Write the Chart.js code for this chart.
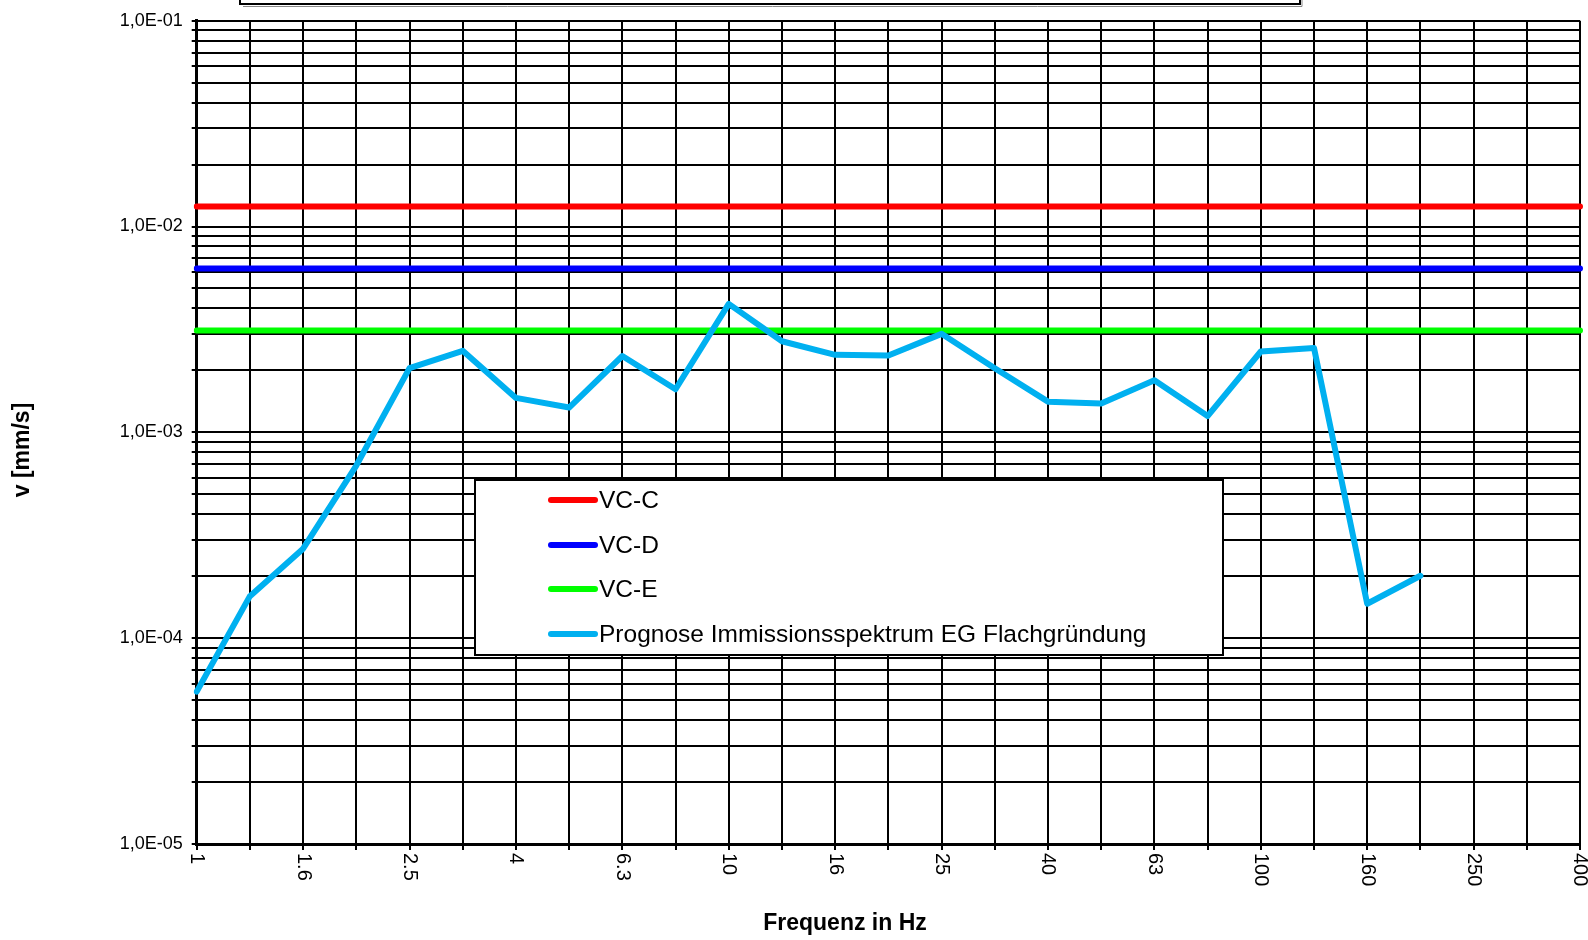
<!DOCTYPE html>
<html>
<head>
<meta charset="utf-8">
<script src="https://cdn.jsdelivr.net/npm/chart.js@4/dist/chart.umd.min.js"></script>
<style>
  html, body { margin: 0; padding: 0; background: #fff; }
  #wrap { width: 1588px; height: 940px; position: relative; }
  canvas { display: block; }
</style>
</head>
<body>
<div id="wrap"><canvas id="c" width="1588" height="940"></canvas></div>
<script>
// ---- data ----
const frequencies = ['1','1.25','1.6','2','2.5','3.15','4','5','6.3','8','10','12.5','16','20','25','31.5','40','50','63','80','100','125','160','200','250','315','400'];
const xTickLabels = ['1','1.6','2.5','4','6.3','10','16','25','40','63','100','160','250','400'];
const vcC = [0.0125,0.0125,0.0125,0.0125,0.0125,0.0125,0.0125,0.0125,0.0125,0.0125,0.0125,0.0125,0.0125,0.0125,0.0125,0.0125,0.0125,0.0125,0.0125,0.0125,0.0125,0.0125,0.0125,0.0125,0.0125,0.0125,0.0125];
const vcD = [0.00625,0.00625,0.00625,0.00625,0.00625,0.00625,0.00625,0.00625,0.00625,0.00625,0.00625,0.00625,0.00625,0.00625,0.00625,0.00625,0.00625,0.00625,0.00625,0.00625,0.00625,0.00625,0.00625,0.00625,0.00625,0.00625,0.00625];
const vcE = [0.003125,0.003125,0.003125,0.003125,0.003125,0.003125,0.003125,0.003125,0.003125,0.003125,0.003125,0.003125,0.003125,0.003125,0.003125,0.003125,0.003125,0.003125,0.003125,0.003125,0.003125,0.003125,0.003125,0.003125,0.003125,0.003125,0.003125];
const prognose = [5.5e-5,1.6e-4,2.72e-4,6.9e-4,2.05e-3,2.49e-3,1.47e-3,1.32e-3,2.35e-3,1.62e-3,4.21e-3,2.77e-3,2.38e-3,2.36e-3,3.01e-3,2.05e-3,1.41e-3,1.38e-3,1.79e-3,1.20e-3,2.47e-3,2.57e-3,1.47e-4,2.01e-4,null,null,null];
const seriesNames = ['VC-C','VC-D','VC-E','Prognose Immissionsspektrum EG Flachgründung'];
const yMajorTicks = [1e-5, 1e-4, 1e-3, 1e-2, 1e-1];
const yTickLabels = ['1,0E-05','1,0E-04','1,0E-03','1,0E-02','1,0E-01'];
const xTitle = 'Frequenz in Hz';
const yTitle = 'v [mm/s]';

const FONT = "'Liberation Sans', Arial, sans-serif";

function majorIndex(v) {
  for (let i = 0; i < yMajorTicks.length; i++) {
    if (Math.abs(v - yMajorTicks[i]) / yMajorTicks[i] < 1e-6) return i;
  }
  return -1;
}

const decorPlugin = {
  id: 'decor',
  afterDraw(chart) {
    const ctx = chart.ctx;
    const xs = chart.scales.x;
    const area = chart.chartArea;
    ctx.save();
    // rotated x tick labels (reading top to bottom)
    ctx.fillStyle = '#000';
    ctx.font = '20px ' + FONT;
    ctx.textAlign = 'left';
    ctx.textBaseline = 'middle';
    xTickLabels.forEach(lbl => {
      const idx = frequencies.indexOf(lbl);
      const x = xs.getPixelForValue(idx);
      ctx.save();
      ctx.translate(x, area.bottom + 9);
      ctx.rotate(Math.PI / 2);
      ctx.fillText(lbl, 0, 0);
      ctx.restore();
    });
    // axis titles
    ctx.font = 'bold 23px ' + FONT;
    ctx.textAlign = 'center';
    ctx.textBaseline = 'middle';
    ctx.fillText(xTitle, 845, 924);
    ctx.save();
    ctx.translate(23, 450);
    ctx.rotate(-Math.PI / 2);
    ctx.fillText(yTitle, 0, 0);
    ctx.restore();

    // legend box
    const lx = 475, ly = 480, lw = 748, lh = 175;
    ctx.fillStyle = '#fff';
    ctx.fillRect(lx, ly, lw, lh);
    ctx.strokeStyle = '#000';
    ctx.lineWidth = 2;
    ctx.strokeRect(lx, ly, lw, lh);
    const rows = [500, 545, 589, 634];
    ctx.font = '24.5px ' + FONT;
    ctx.textAlign = 'left';
    ctx.textBaseline = 'middle';
    chart.data.datasets.forEach((ds, i) => {
      ctx.strokeStyle = ds.borderColor;
      ctx.lineWidth = 6;
      ctx.lineCap = 'round';
      ctx.beginPath();
      ctx.moveTo(551, rows[i]);
      ctx.lineTo(595, rows[i]);
      ctx.stroke();
      ctx.fillStyle = '#000';
      ctx.fillText(ds.label, 599, rows[i] + 1);
    });

    // top (cut-off) header box
    ctx.lineCap = 'butt';
    ctx.strokeStyle = '#000';
    ctx.lineWidth = 2;
    ctx.strokeRect(240, -20, 1060, 24);
    ctx.strokeStyle = '#888';
    ctx.lineWidth = 1;
    ctx.beginPath();
    ctx.moveTo(243, 6.5);
    ctx.lineTo(1302, 6.5);
    ctx.lineTo(1302, -5);
    ctx.stroke();
    ctx.restore();
  }
};

const makeDs = (label, data, color, order) => ({
  label, data, borderColor: color, backgroundColor: color,
  borderWidth: 6, pointRadius: 0, pointHoverRadius: 0, fill: false,
  tension: 0, spanGaps: false, borderJoinStyle: 'round', borderCapStyle: 'round', order
});

new Chart(document.getElementById('c'), {
  type: 'line',
  data: {
    labels: frequencies,
    datasets: [
      makeDs(seriesNames[0], vcC, '#FF0000', 3),
      makeDs(seriesNames[1], vcD, '#0000FF', 2),
      makeDs(seriesNames[2], vcE, '#00FF00', 1),
      makeDs(seriesNames[3], prognose, '#00B0F0', 0)
    ]
  },
  options: {
    responsive: false,
    animation: false,
    devicePixelRatio: 1,
    layout: { padding: { left: 0, top: 20.7, right: 8, bottom: 0 } },
    plugins: { legend: { display: false }, title: { display: false }, tooltip: { enabled: false } },
    scales: {
      x: {
        type: 'category',
        offset: false,
        grid: { color: '#000', lineWidth: 2, drawTicks: true, tickLength: 6, tickColor: '#000', tickWidth: 2 },
        border: { color: '#000', width: 3 },
        ticks: { display: false, autoSkip: false },
        afterFit(s) { s.height = 96; }
      },
      y: {
        type: 'logarithmic',
        min: 1e-5,
        max: 1e-1,
        grid: { color: '#000', lineWidth: 2, drawTicks: true, tickLength: 5, tickColor: '#000', tickWidth: 2 },
        border: { color: '#000', width: 3 },
        afterBuildTicks(s) {
          const t = [];
          for (let k = 0; k < yMajorTicks.length; k++) {
            const base = yMajorTicks[k];
            t.push({ value: base });
            if (k < yMajorTicks.length - 1) {
              for (let m = 2; m <= 9; m++) t.push({ value: +(base * m).toPrecision(6) });
            }
          }
          s.ticks = t;
        },
        ticks: {
          autoSkip: false,
          color: '#000',
          font: { family: FONT, size: 18 },
          padding: 9,
          callback(v) {
            const i = majorIndex(v);
            return i >= 0 ? yTickLabels[i] : '';
          }
        },
        afterFit(s) { s.width = 196.7; }
      }
    }
  },
  plugins: [decorPlugin]
});
</script>
</body>
</html>
